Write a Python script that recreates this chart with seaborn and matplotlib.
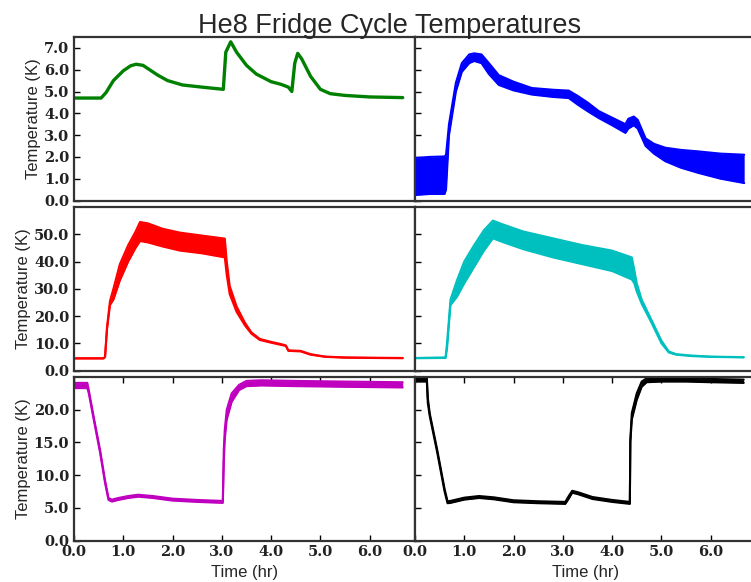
import matplotlib
matplotlib.use("Agg")
import matplotlib.pyplot as plt
import seaborn as sns

# --- Stage temperatures over the fridge cycle (hours, kelvin) ---
# Top-left: single trace
green_t = [0.0, 0.55, 0.65, 0.8, 1.0, 1.15, 1.26, 1.4, 1.5, 1.7, 1.9, 2.2, 2.6, 3.03,
           3.08, 3.18, 3.3, 3.5, 3.7, 4.0, 4.2, 4.35, 4.42, 4.48, 4.54, 4.62, 4.8, 5.0,
           5.2, 5.5, 6.0, 6.67]
green_k = [4.7, 4.7, 4.95, 5.5, 5.95, 6.18, 6.25, 6.2, 6.05, 5.75, 5.5, 5.3, 5.2, 5.1,
           6.8, 7.28, 6.8, 6.2, 5.8, 5.45, 5.33, 5.2, 5.0, 6.3, 6.75, 6.5, 5.7, 5.1,
           4.9, 4.82, 4.75, 4.72]

# Top-right: noisy trace, given as lower / upper envelope
blue_t = [0.0, 0.3, 0.6, 0.63, 0.69, 0.83, 0.95, 1.1, 1.2, 1.35, 1.5, 1.7, 2.0, 2.37,
          2.8, 3.12, 3.3, 3.5, 3.73, 4.0, 4.27, 4.33, 4.44, 4.52, 4.68, 4.85, 5.08,
          5.4, 5.76, 6.2, 6.68]
blue_lo = [0.25, 0.3, 0.3, 0.5, 3.0, 5.0, 5.9, 6.3, 6.4, 6.3, 5.8, 5.3, 5.05, 4.86,
           4.75, 4.7, 4.4, 4.1, 3.78, 3.45, 3.1, 3.3, 3.45, 3.3, 2.5, 2.15, 1.8,
           1.5, 1.26, 1.0, 0.8]
blue_hi = [1.95, 2.0, 2.02, 2.1, 3.5, 5.4, 6.3, 6.7, 6.75, 6.7, 6.3, 5.75, 5.45, 5.16,
           5.08, 5.04, 4.8, 4.5, 4.1, 3.8, 3.5, 3.75, 3.85, 3.7, 2.85, 2.6, 2.42,
           2.32, 2.25, 2.15, 2.1]

# Middle-left
red_t = [0.0, 0.6, 0.63, 0.67, 0.73, 0.8, 0.93, 1.1, 1.25, 1.34, 1.5, 1.8, 2.15, 2.6,
         3.06, 3.1, 3.16, 3.3, 3.47, 3.6, 3.77, 4.0, 4.2, 4.3, 4.35, 4.6, 4.8, 5.1,
         5.5, 6.0, 6.67]
red_lo = [4.4, 4.4, 5.0, 15.0, 24.0, 26.0, 33.0, 40.0, 45.0, 47.5, 47.0, 45.5, 44.0,
          43.0, 41.5, 35.0, 28.0, 21.5, 16.5, 13.5, 11.2, 10.2, 9.4, 9.0, 7.2, 7.0,
          5.8, 5.0, 4.7, 4.6, 4.5]
red_hi = [4.5, 4.5, 5.0, 16.0, 25.5, 30.0, 39.0, 46.0, 51.0, 54.5, 54.0, 52.0, 50.6,
          49.5, 48.4, 40.0, 31.0, 23.5, 17.5, 14.0, 11.6, 10.5, 9.7, 9.2, 7.4, 7.2,
          6.0, 5.1, 4.8, 4.7, 4.6]

# Middle-right
cyan_t = [0.0, 0.62, 0.65, 0.72, 0.85, 1.0, 1.2, 1.4, 1.58, 1.8, 2.2, 2.8, 3.4, 4.0,
          4.4, 4.45, 4.5, 4.6, 4.8, 5.0, 5.15, 5.3, 5.6, 6.0, 6.67]
cyan_lo = [4.5, 4.6, 8.0, 24.0, 27.0, 32.0, 38.0, 44.0, 48.5, 47.0, 44.5, 41.5, 39.0,
           36.5, 33.4, 32.0, 29.0, 24.5, 17.5, 10.0, 6.6, 5.8, 5.3, 5.0, 4.8]
cyan_hi = [4.6, 4.8, 10.0, 26.0, 33.0, 40.0, 46.0, 51.5, 55.0, 53.5, 51.0, 48.5, 46.0,
           44.0, 41.5, 37.0, 32.0, 26.0, 18.5, 11.0, 7.0, 6.0, 5.5, 5.1, 4.9]

# Bottom-left
mag_t = [0.0, 0.27, 0.3, 0.4, 0.53, 0.63, 0.7, 0.77, 0.9, 1.1, 1.3, 1.6, 2.0, 2.5,
         3.02, 3.04, 3.06, 3.1, 3.2, 3.35, 3.5, 3.8, 4.5, 5.5, 6.67]
mag_lo = [23.3, 23.3, 22.5, 18.5, 13.4, 8.8, 6.2, 5.95, 6.2, 6.5, 6.7, 6.5, 6.1, 5.9,
          5.75, 12.0, 15.5, 18.5, 21.2, 23.0, 23.6, 23.7, 23.6, 23.5, 23.4]
mag_hi = [24.1, 24.1, 23.0, 18.9, 13.8, 9.2, 6.5, 6.25, 6.5, 6.8, 7.0, 6.8, 6.4, 6.2,
          6.05, 14.0, 17.0, 20.0, 22.5, 23.8, 24.4, 24.5, 24.4, 24.3, 24.2]

# Bottom-right
blk_t = [0.0, 0.24, 0.26, 0.3, 0.45, 0.6, 0.66, 0.72, 1.0, 1.3, 1.6, 2.0, 2.5, 3.05,
         3.12, 3.19, 3.3, 3.6, 4.0, 4.36, 4.37, 4.4, 4.5, 4.6, 4.7, 5.0, 5.5, 6.0, 6.67]
blk_lo = [24.3, 24.3, 21.0, 19.0, 13.5, 7.5, 5.7, 5.75, 6.25, 6.5, 6.3, 5.85, 5.7, 5.6,
          6.4, 7.3, 7.1, 6.35, 5.9, 5.6, 15.0, 18.5, 21.5, 23.5, 24.2, 24.3, 24.3,
          24.2, 24.1]
blk_hi = [25.0, 25.0, 21.8, 19.4, 13.9, 7.9, 6.0, 6.05, 6.55, 6.8, 6.6, 6.15, 6.0, 5.9,
          6.8, 7.6, 7.4, 6.65, 6.2, 5.9, 15.5, 19.5, 22.5, 24.3, 24.8, 24.8, 24.8,
          24.7, 24.6]

row_ylims = [(0, 7.5), (0, 60), (0, 25)]
row_yticks = [[0, 1, 2, 3, 4, 5, 6, 7],
              [0, 10, 20, 30, 40, 50],
              [0, 5, 10, 15, 20]]
x_ticks = [0, 1, 2, 3, 4, 5, 6]
x_max = 6.92

sns.set_style("ticks")
plt.rcParams["font.family"] = ["Liberation Sans", "DejaVu Sans"]

W, H = 751, 582
fig = plt.figure(figsize=(W / 100, H / 100), dpi=100)

# axes rectangles in pixels: (left, top, width, height)
row_tops = [37, 207, 377]
row_h = 163.5
col_lefts = [74, 415]
col_w = 341


def make_axes(col, row):
    l, t = col_lefts[col], row_tops[row]
    return fig.add_axes([l / W, 1 - (t + row_h) / H, col_w / W, row_h / H])


def serif_labels(labels):
    for lab in labels:
        lab.set_fontfamily("DejaVu Serif")
        lab.set_fontsize(10.5)
        lab.set_fontweight("semibold")
        lab.set_color("#222222")


spine_col = "#333333"

panels = [
    (0, 0, "green", "line", (green_t, green_k)),
    (1, 0, "blue", "band", (blue_t, blue_lo, blue_hi)),
    (0, 1, "red", "band", (red_t, red_lo, red_hi)),
    (1, 1, "#00bfbf", "band", (cyan_t, cyan_lo, cyan_hi)),
    (0, 2, "#bf00bf", "band", (mag_t, mag_lo, mag_hi)),
    (1, 2, "black", "band", (blk_t, blk_lo, blk_hi)),
]

for col, row, color, kind, data in panels:
    ax = make_axes(col, row)
    if kind == "line":
        t, k = data
        sns.lineplot(x=t, y=k, ax=ax, color=color, lw=2.4)
    else:
        t, lo, hi = data
        ax.fill_between(t, lo, hi, color=color, lw=0)
        sns.lineplot(x=t, y=lo, ax=ax, color=color, lw=1.5)
        sns.lineplot(x=t, y=hi, ax=ax, color=color, lw=1.5)

    ax.set_xlim(0, x_max)
    ax.set_ylim(*row_ylims[row])
    ax.set_yticks(row_yticks[row])
    ax.set_xticks(x_ticks)
    for sp in ax.spines.values():
        sp.set_visible(True)
        sp.set_color(spine_col)
        sp.set_linewidth(1.6)
    ax.tick_params(direction="in", length=4, width=1, color="black")

    if col == 0:
        ax.set_yticklabels([f"{v:.1f}" for v in row_yticks[row]])
        serif_labels(ax.get_yticklabels())
        ax.set_ylabel("Temperature (K)", fontsize=12, labelpad=2)
    else:
        ax.set_yticklabels([])
        ax.set_ylabel("")

    if row == 2:
        ax.tick_params(axis="x", top=True, bottom=True)
        ax.set_xticklabels([f"{v:.1f}" for v in x_ticks])
        serif_labels(ax.get_xticklabels())
        ax.set_xlabel("Time (hr)", fontsize=12, labelpad=4)
    else:
        ax.tick_params(axis="x", top=False, bottom=False, labelbottom=False)
        ax.set_xlabel("")

fig.text(390 / W, 1 - 33 / H, "He8 Fridge Cycle Temperatures", ha="center",
         va="baseline", fontsize=19.5)

fig.savefig("out.png", dpi=100)
